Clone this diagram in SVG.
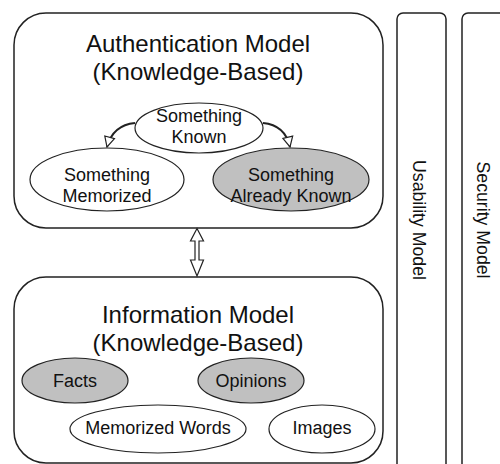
<svg xmlns="http://www.w3.org/2000/svg" width="500" height="464" viewBox="0 0 500 464">
<style>
.box{fill:#fff;stroke:#222;stroke-width:1.5}
.ell{fill:#fff;stroke:#222;stroke-width:1.2}
.gray{fill:#c0c0c0}
.t{font-family:"Liberation Sans",Arial,sans-serif;fill:#111;text-anchor:middle}
.big{font-size:24px}
.mid{font-size:18px}
.side{font-size:17.7px}
.con{fill:none;stroke:#222;stroke-width:2}
</style>
<defs>
<marker id="ah" viewBox="0 0 12 12" refX="11" refY="6" markerWidth="12" markerHeight="12" markerUnits="userSpaceOnUse" orient="auto">
<path d="M1,1 L11,6 L1,11 Z" fill="#fff" stroke="#222" stroke-width="1.2"/>
</marker>
</defs>
<rect width="500" height="464" fill="#fff"/>
<g id="usability">
<rect class="box" x="397" y="13" width="49" height="470" rx="6"/>
<text class="t side" transform="translate(412.5,220) rotate(90)">Usability Model</text>
</g>
<g id="security">
<rect class="box" x="462" y="13" width="60" height="470" rx="6"/>
<text class="t side" transform="translate(476.5,220) rotate(90)">Security Model</text>
</g>
<g id="auth">
<rect class="box" x="14" y="13" width="369" height="215" rx="32"/>
<text class="t big" x="198" y="52">Authentication Model</text>
<text class="t big" x="198" y="80">(Knowledge-Based)</text>
</g>
<g id="known">
<ellipse class="ell" cx="199" cy="128" rx="64" ry="25"/>
<text class="t mid" x="199" y="122">Something</text>
<text class="t mid" x="199" y="143">Known</text>
</g>
<g id="memorized">
<ellipse class="ell" cx="107" cy="179.5" rx="77" ry="31.5"/>
<text class="t mid" x="107" y="181">Something</text>
<text class="t mid" x="107" y="202">Memorized</text>
</g>
<g id="alreadyknown">
<ellipse class="ell gray" cx="291" cy="179.5" rx="78" ry="31.5"/>
<text class="t mid" x="291" y="181">Something</text>
<text class="t mid" x="291" y="202">Already Known</text>
</g>
<g id="info">
<rect class="box" x="14" y="277" width="369" height="186" rx="32"/>
<text class="t big" x="198" y="323">Information Model</text>
<text class="t big" x="198" y="351">(Knowledge-Based)</text>
</g>
<g id="facts">
<ellipse class="ell gray" cx="75" cy="380.5" rx="53" ry="22.5"/>
<text class="t mid" x="75" y="387">Facts</text>
</g>
<g id="opinions">
<ellipse class="ell gray" cx="251" cy="380.5" rx="53" ry="22.5"/>
<text class="t mid" x="251" y="387">Opinions</text>
</g>
<g id="words">
<ellipse class="ell" cx="158" cy="429" rx="88" ry="24"/>
<text class="t mid" x="158" y="434">Memorized Words</text>
</g>
<g id="images">
<ellipse class="ell" cx="322" cy="429" rx="53" ry="24"/>
<text class="t mid" x="322" y="434">Images</text>
</g>
<g id="connectors">
<path class="con" d="M135,123 Q113,125 107,147" marker-end="url(#ah)"/>
<path class="con" d="M263,123 Q285,125 290,147" marker-end="url(#ah)"/>
<path d="M197,228.5 L203.5,241 L199,241 L199,260 L203.5,260 L197,276 L190.5,260 L195,260 L195,241 L190.5,241 Z" fill="#fff" stroke="#222" stroke-width="1.2"/>
</g>
</svg>
